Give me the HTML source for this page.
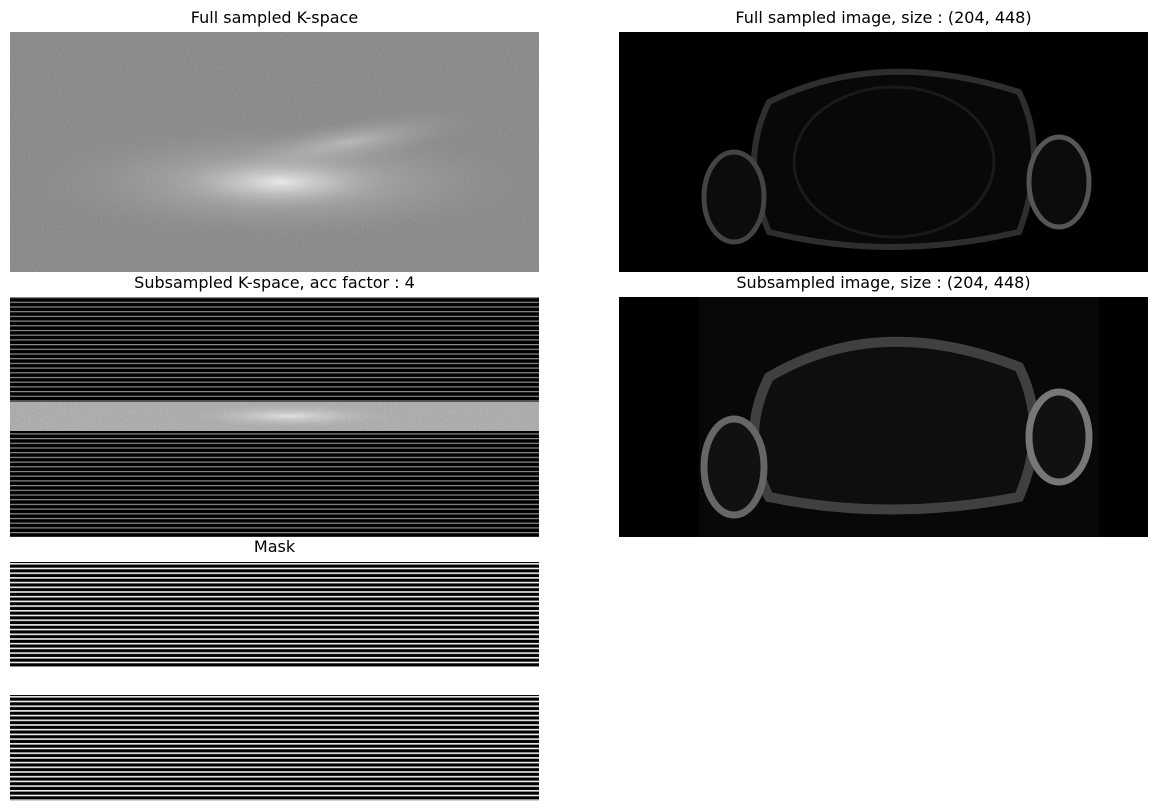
<!DOCTYPE html>
<html><head><meta charset="utf-8"><style>
body{margin:0;background:#fff;width:1169px;height:812px;position:relative;overflow:hidden;font-family:"DejaVu Sans","Liberation Sans",sans-serif}
.t{position:absolute;font-size:16px;color:#000;text-align:center;width:529px}
.p{position:absolute;width:529px}
svg{display:block}
</style></head><body>
<div class="t" style="left:10px;top:8px">Full sampled K-space</div>
<div class="t" style="left:619px;top:8px">Full sampled image, size : (204, 448)</div>
<div class="t" style="left:10px;top:273px">Subsampled K-space, acc factor : 4</div>
<div class="t" style="left:619px;top:273px">Subsampled image, size : (204, 448)</div>
<div class="t" style="left:10px;top:537px">Mask</div>

<svg width="0" height="0" style="position:absolute"><defs>
<filter id="nz" x="0" y="0" width="100%" height="100%"><feTurbulence type="fractalNoise" baseFrequency="0.8" numOctaves="2" seed="3"/><feColorMatrix type="matrix" values="0 0 0 0 0.2 0 0 0 0 0.2 0 0 0 0 0.2 -2.5 0 0 0 1.3"/></filter>
<radialGradient id="rg" cx="0.5" cy="0.5" r="0.5"><stop offset="0" stop-color="#fff" stop-opacity="0.9"/><stop offset="0.4" stop-color="#ddd" stop-opacity="0.5"/><stop offset="1" stop-color="#999" stop-opacity="0"/></radialGradient>
<pattern id="stripe" width="529" height="4.7" patternUnits="userSpaceOnUse"><rect width="529" height="4.7" fill="#000"/><rect y="0" width="529" height="1.2" fill="#8c8c8c"/></pattern>
<pattern id="mstripe" width="529" height="4.7" patternUnits="userSpaceOnUse"><rect width="529" height="4.7" fill="#000"/><rect y="1" width="529" height="1.6" fill="#eee"/></pattern>
</defs></svg>

<div class="p" style="left:10px;top:32px;height:240px">
<svg width="529" height="240"><rect width="529" height="240" fill="#8e8e8e"/><rect width="529" height="240" filter="url(#nz)" opacity="0.8"/>
<ellipse cx="270" cy="150" rx="260" ry="60" fill="url(#rg)" opacity="0.5"/><ellipse cx="270" cy="150" rx="120" ry="30" fill="url(#rg)" opacity="0.7"/>
<ellipse cx="340" cy="110" rx="140" ry="25" fill="url(#rg)" opacity="0.4" transform="rotate(-10 340 110)"/></svg></div>

<div class="p" style="left:619px;top:32px;height:240px">
<svg width="529" height="240"><rect width="529" height="240" fill="#000"/>
<path d="M150,70 Q260,15 400,60 Q430,120 400,200 Q270,230 150,200 Q120,130 150,70Z" fill="#080808" stroke="#2e2e2e" stroke-width="6"/>
<ellipse cx="115" cy="165" rx="30" ry="45" fill="#0c0c0c" stroke="#444" stroke-width="5"/>
<ellipse cx="440" cy="150" rx="30" ry="45" fill="#0c0c0c" stroke="#555" stroke-width="5"/>
<ellipse cx="275" cy="130" rx="100" ry="75" fill="none" stroke="#1a1a1a" stroke-width="3"/></svg></div>

<div class="p" style="left:10px;top:297px;height:240px">
<svg width="529" height="240"><rect width="529" height="240" fill="url(#stripe)"/>
<rect y="105" width="529" height="29" fill="#b0b0b0"/><rect y="105" width="529" height="29" filter="url(#nz)" opacity="0.4"/>
<ellipse cx="280" cy="119" rx="120" ry="14" fill="url(#rg)" opacity="0.7"/></svg></div>

<div class="p" style="left:619px;top:297px;height:240px">
<svg width="529" height="240"><rect width="529" height="240" fill="#000"/><rect x="80" width="400" height="240" fill="#080808"/>
<path d="M150,80 Q260,15 400,70 Q430,130 400,200 Q270,225 150,200 Q120,140 150,80Z" fill="#0e0e0e" stroke="#404040" stroke-width="10"/>
<ellipse cx="115" cy="170" rx="30" ry="48" fill="#111" stroke="#666" stroke-width="7"/>
<ellipse cx="440" cy="140" rx="30" ry="45" fill="#111" stroke="#777" stroke-width="7"/></svg></div>

<div class="p" style="left:10px;top:562px;height:105px">
<svg width="529" height="105"><rect width="529" height="105" fill="url(#mstripe)"/></svg></div>
<div class="p" style="left:10px;top:695px;height:106px">
<svg width="529" height="106"><rect width="529" height="106" fill="url(#mstripe)"/></svg></div>
</body></html>
